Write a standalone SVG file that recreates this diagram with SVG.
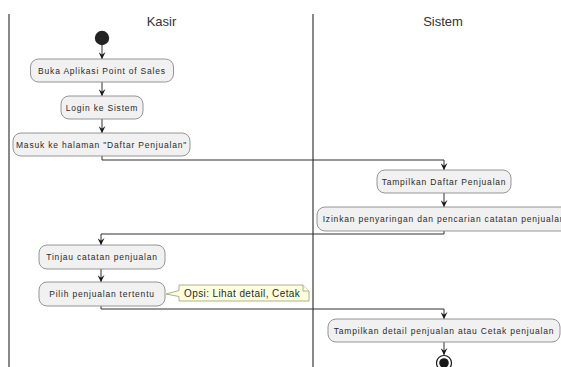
<svg xmlns="http://www.w3.org/2000/svg" width="561" height="367" viewBox="0 0 561 367">
<defs>
<style>
.lane{stroke:#3a3a3a;stroke-width:1.2;fill:none}
.title{font-family:"Liberation Sans",Arial,sans-serif;font-size:13px;fill:#333;text-anchor:middle}
.act rect{fill:#f1f1f1;stroke:#8a8a8a;stroke-width:0.9}
.act text{font-family:"Liberation Sans",Arial,sans-serif;font-size:8.5px;letter-spacing:0.8px;fill:#2a2a2a;text-anchor:middle}
.conn{stroke:#303030;stroke-width:1;fill:none}
.note path{fill:#feffdd;stroke:#9a9a7a;stroke-width:0.8}
.note text{font-family:"Liberation Sans",Arial,sans-serif;font-size:10px;letter-spacing:0.4px;fill:#2a2a2a}
</style>
<marker id="ah" viewBox="0 0 10 10" refX="10" refY="5" markerWidth="7" markerHeight="7" markerUnits="userSpaceOnUse" orient="auto">
<path d="M0,0 L10,5 L0,10 L4,5 z" fill="#181818"/>
</marker>
</defs>
<rect width="561" height="367" fill="#ffffff"/>
<g id="lanes">
<line class="lane" x1="9" y1="14" x2="9" y2="367"/>
<line class="lane" x1="313" y1="14" x2="313" y2="367"/>
<text class="title" x="161.5" y="26">Kasir</text>
<text class="title" x="443" y="26">Sistem</text>
</g>
<g id="connectors">
<line class="conn" x1="102" y1="45" x2="102" y2="59" marker-end="url(#ah)"/>
<line class="conn" x1="102" y1="82" x2="102" y2="96" marker-end="url(#ah)"/>
<line class="conn" x1="102" y1="119" x2="102" y2="133" marker-end="url(#ah)"/>
<polyline class="conn" points="102,156 102,160 444,160 444,170" marker-end="url(#ah)"/>
<line class="conn" x1="444" y1="193" x2="444" y2="207" marker-end="url(#ah)"/>
<polyline class="conn" points="444,231 444,234 101,234 101,245" marker-end="url(#ah)"/>
<line class="conn" x1="101" y1="269" x2="101" y2="282" marker-end="url(#ah)"/>
<polyline class="conn" points="101,306 101,309 444,309 444,319" marker-end="url(#ah)"/>
<line class="conn" x1="444" y1="342" x2="444" y2="355" marker-end="url(#ah)"/>
</g>
<g id="start">
<circle cx="102" cy="38" r="7.2" fill="#222222"/>
</g>
<g id="buka" class="act">
<rect x="30.5" y="59" width="143" height="23" rx="8"/>
<text x="102" y="73.5">Buka Aplikasi Point of Sales</text>
</g>
<g id="login" class="act">
<rect x="61" y="96" width="82" height="23" rx="8"/>
<text x="102" y="110.5">Login ke Sistem</text>
</g>
<g id="masuk" class="act">
<rect x="13" y="133" width="177" height="23" rx="8"/>
<text x="101.5" y="147.5">Masuk ke halaman "Daftar Penjualan"</text>
</g>
<g id="tampilkan-daftar" class="act">
<rect x="377" y="170" width="134" height="23" rx="8"/>
<text x="444" y="184.5">Tampilkan Daftar Penjualan</text>
</g>
<g id="izinkan" class="act">
<rect x="317" y="207" width="254" height="24" rx="8"/>
<text x="444" y="222">Izinkan penyaringan dan pencarian catatan penjualan</text>
</g>
<g id="tinjau" class="act">
<rect x="39" y="245" width="126" height="24" rx="8"/>
<text x="102" y="260">Tinjau catatan penjualan</text>
</g>
<g id="pilih" class="act">
<rect x="39" y="282" width="126" height="24" rx="8"/>
<text x="102" y="297">Pilih penjualan tertentu</text>
</g>
<g id="note" class="note">
<path d="M179,285 L303,285 L309,291 L309,301 L179,301 L179,296.5 L166,294 L179,290.5 Z"/>
<path d="M303,285 L303,291 L309,291" fill="none"/>
<text x="184" y="297">Opsi: Lihat detail, Cetak</text>
</g>
<g id="tampilkan-detail" class="act">
<rect x="328" y="319" width="232" height="23" rx="8"/>
<text x="444" y="333.5">Tampilkan detail penjualan atau Cetak penjualan</text>
</g>
<g id="end">
<circle cx="444" cy="363" r="7.5" fill="#ffffff" stroke="#181818" stroke-width="1.2"/>
<circle cx="444" cy="363" r="4.8" fill="#181818"/>
</g>
</svg>
